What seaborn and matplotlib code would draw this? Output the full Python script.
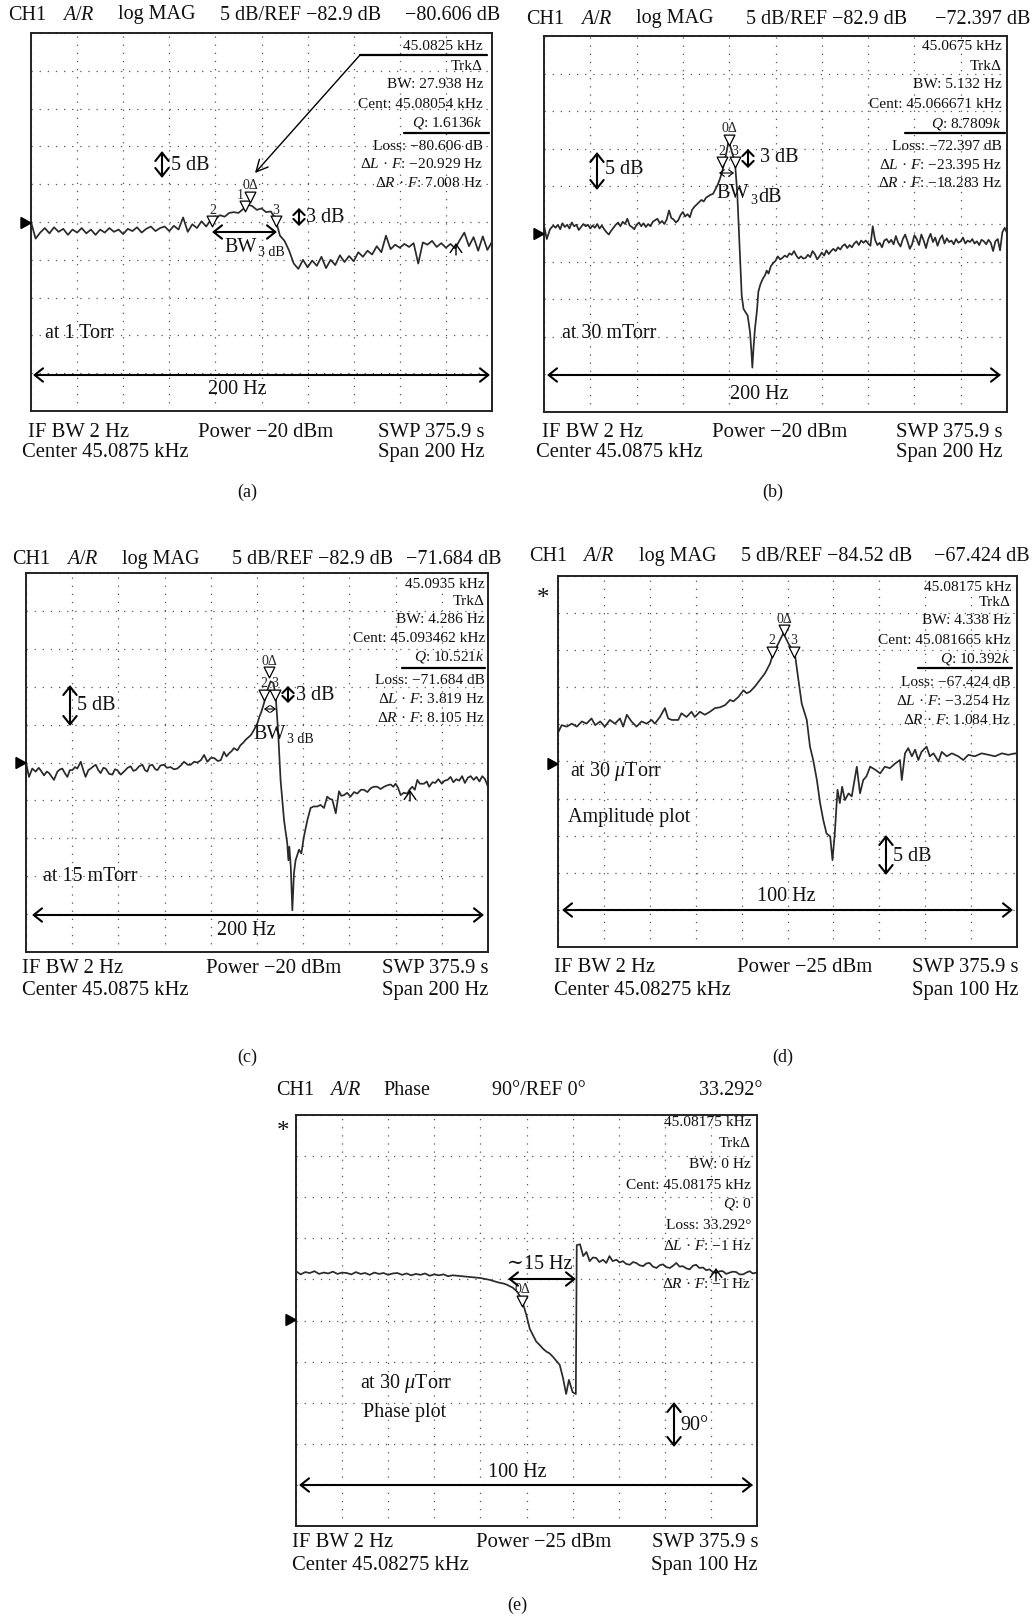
import numpy as np
import matplotlib
matplotlib.use("Agg")
import matplotlib.pyplot as plt
import matplotlib.patches as mpatches
import matplotlib.transforms as mtransforms
import seaborn as sns

# =============================
# Data read off the analyser screens
# x: offset from centre frequency (Hz), y: level relative to REF (dB, deg for e)
# =============================
a_freq = [-100, -98, -96, -94, -92, -90, -88, -86, -84, -82, -80, -78, -76, -74, -72, -70,
          -68, -66, -64, -62, -60, -58, -56, -54, -52, -50, -48, -46, -44, -42, -40, -38,
          -36, -34, -32, -30, -28, -26, -24, -22, -20, -18, -16, -14, -12, -10, -8, -6,
          -4, -2, 0, 2, 4, 6, 8, 10, 12, 14, 16, 18, 20, 22, 24, 26, 28, 30, 32, 34, 36,
          38, 40, 42, 44, 46, 48, 50, 52, 54, 56, 58, 60, 62, 64, 66, 68, 70, 72, 74, 76,
          78, 80, 82, 84, 86, 88, 90, 92, 94, 96, 98, 100]
a_level = [0.0, -2.2, -1.4, -0.8, -1.5, -0.7, -1.3, -0.9, -1.7, -1.0, -1.4, -0.8, -1.5, -1.0,
           -1.7, -1.0, -1.4, -0.8, -1.3, -1.0, -1.6, -0.9, -1.2, -0.7, -1.4, -0.9, -0.6, -1.2,
           -0.8, -0.6, -1.2, -0.5, -1.0, 0.6, -1.3, -0.3, -0.8, 0.1, -0.6, 0.3, 0.4, 0.9, 0.7,
           1.2, 1.3, 1.2, 1.7, 2.3, 2.1, 1.6, 1.8, 1.3, 1.4, 0.5, -1.8, -2.5, -3.8, -5.5, -6.2,
           -5.0, -6.0, -5.1, -5.8, -4.6, -6.1, -5.0, -5.7, -4.4, -5.3, -4.5, -5.2, -4.0, -4.6,
           -3.8, -4.3, -3.2, -4.0, -1.8, -3.6, -3.0, -3.4, -2.9, -3.3, -2.8, -5.5, -2.7, -3.0,
           -2.5, -3.3, -2.8, -3.4, -2.9, -3.5, -2.4, -1.4, -3.2, -2.0, -3.8, -1.9, -3.7, -2.6]

b_freq = [-100, -98.8, -97.4, -96, -95, -94, -93, -92, -91, -90, -89, -88, -87, -86, -85, -84,
          -83, -82, -81, -80, -79, -78, -77, -76, -75, -74, -73, -72, -71, -70, -69, -68, -67,
          -66, -65, -64, -63, -62, -61, -60, -59, -58, -57, -56, -55, -54, -53, -52, -51, -50,
          -49, -48, -47, -46, -45, -44, -43, -42, -41, -40, -39, -38, -37, -36, -35, -34, -33,
          -32, -31, -30, -29, -28, -27, -26, -25, -24, -23, -22, -21, -20.2, -19.5, -18.5,
          -17.5, -16.5, -15.5, -14.6, -13.8, -12.8, -12, -11, -10.4, -10, -9.5, -8.9, -8, -7.4,
          -6.5, -5.5, -4.5, -3.8, -3, -2, -1, 0, 1, 2, 3, 4, 5, 6, 7, 8, 9, 10, 11, 12, 13, 14,
          15, 16, 17, 18, 19, 20, 21, 22, 23, 24, 25, 26, 27, 28, 29, 30, 31, 32, 33, 34, 35, 36,
          37, 38, 39, 40, 41, 42, 43, 44, 45, 46, 47, 48, 49, 50, 51, 52, 53, 54, 55, 56, 57, 58,
          59, 60, 61, 62, 63, 64, 65, 66, 67, 68, 69, 70, 71, 72, 73, 74, 75, 76, 77, 78, 79, 80,
          81, 82, 83, 84, 85, 86, 87, 88, 89, 90, 91, 92, 93, 94, 95, 96, 97, 98, 99, 100]
b_level = [-0.2, -2.0, -0.7, -0.2, -0.5, -0.1, -0.7, 0.1, -0.4, -0.1, -0.6, 0.2, -0.3, -0.1,
           -0.8, -0.4, 0.0, -0.3, -0.1, -0.6, -0.2, -0.5, 0.0, -0.6, -0.2, -0.7, -1.1, -1.4, -0.9,
           -0.5, -0.1, 0.2, -0.3, 0.3, 0.0, 0.7, -0.2, -0.4, -0.7, -0.1, 0.2, -0.3, 0.1, -0.4, 0.0,
           -0.3, 0.3, 0.5, 0.7, 0.1, 0.4, 0.0, 0.6, 1.8, 0.8, 0.6, 0.2, 0.5, 1.2, 1.6, 1.0, 1.3,
           0.9, 1.9, 2.3, 2.6, 2.9, 3.2, 3.0, 3.5, 3.7, 3.9, 4.0, 4.6, 5.2, 6.0, 7.0, 8.3, 9.8,
           11.2, 10.3, 9.2, 8.2, 4.0, -3.0, -9.5, -11.3, -11.8, -12.2, -14.4, -17.0, -19.1, -16.5,
           -14.0, -11.5, -9.0, -8.0, -7.3, -6.8, -6.2, -6.6, -5.6, -5.2, -4.9, -4.3, -4.7, -4.5,
           -4.2, -4.4, -3.9, -4.1, -3.6, -4.2, -4.6, -4.3, -4.6, -4.5, -4.1, -4.4, -3.6, -4.0,
           -4.7, -4.3, -3.8, -4.2, -3.5, -4.0, -3.6, -3.3, -3.6, -3.1, -3.4, -2.9, -2.7, -3.2,
           -2.8, -3.1, -2.6, -2.3, -2.8, -2.2, -2.5, -2.2, -2.6, -2.9, -0.3, -2.1, -2.8, -2.5,
           -3.1, -2.2, -2.0, -2.5, -2.1, -2.7, -1.6, -2.5, -3.0, -2.0, -1.4, -2.3, -3.3, -2.7,
           -1.5, -2.0, -2.8, -1.4, -2.2, -3.2, -2.0, -1.3, -2.4, -1.8, -2.9, -2.0, -1.5, -2.6,
           -1.9, -2.4, -2.2, -2.7, -2.0, -2.5, -2.3, -1.8, -2.6, -2.2, -2.4, -2.0, -2.6, -2.3,
           -2.8, -2.1, -2.3, -2.7, -2.1, -2.5, -3.6, -2.3, -2.0, -3.5, -1.1, -0.5, -1.2]

c_freq = [-100, -98.7, -97.3, -95.8, -94.5, -93.7, -92.2, -91, -90, -87.9, -86.4, -85.2, -84.3,
          -83, -82.1, -81, -79.9, -78.8, -77.8, -76.3, -75, -74.2, -73, -72, -70.8, -69.8, -68.7,
          -67.7, -66.5, -65.5, -64, -62.6, -61.5, -60.5, -59, -57.6, -56, -54.7, -53.5, -52.5,
          -51, -49.6, -48.5, -47.5, -46.5, -45.3, -44, -43.1, -41.8, -40.3, -39, -37.4, -36,
          -34.5, -33, -31.6, -30, -28.7, -27.2, -25.8, -24.3, -22.9, -21.5, -20, -18.6, -17,
          -15.7, -14.3, -13.2, -12.1, -11, -10, -8.5, -7.1, -6, -4.9, -3.8, -2.7, -1.3, 0.2, 1.0,
          1.9, 3.0, 3.8, 4.8, 5.9, 7.1, 8.1, 9.1, 10.2, 11.7, 13.1, 13.6, 14.0, 14.6, 15.3, 16.0,
          16.7, 18.2, 19.2, 20.3, 21.8, 23.2, 24.5, 26.1, 27.5, 29.0, 30.4, 31.5, 32.6, 34.1,
          35.5, 36.5, 37.7, 39, 40.5, 42, 43.4, 45, 46.3, 47.8, 49.2, 50.5, 52.1, 53.5, 55.0,
          56.5, 57.9, 59, 60, 61, 62.2, 63.5, 65.1, 66, 67.2, 68.3, 69.4, 70.5, 72.3, 73.5, 74.5,
          76, 77.2, 78.5, 80, 81.2, 82.5, 83.8, 85, 86.3, 87.5, 88.8, 90, 91.3, 92.5, 93.8, 95,
          96.3, 97.5, 98.7, 100]
c_level = [0.0, -1.9, -0.8, -1.2, -0.7, -1.0, -1.7, -1.2, -1.4, -2.3, -1.2, -0.9, -0.8, -1.5,
           -1.9, -1.0, -1.0, -0.6, -0.8, 0.1, -1.2, -1.9, -1.0, -0.8, -0.5, -0.3, -1.0, -1.4,
           -0.7, -0.8, -1.5, -1.6, -0.9, -1.0, -1.6, -1.2, -0.7, -0.5, -1.1, -1.0, -0.5, -0.3,
           -1.0, -1.2, -0.4, -0.3, -0.9, -1.0, -0.4, -0.3, -0.7, -0.6, -0.9, -0.8, -0.4, 0.1,
           -0.3, -0.3, 0.1, 0.0, 0.3, 1.0, 0.1, 0.6, 0.6, 0.2, 0.3, 1.4, 0.8, 1.2, 1.5, 1.9, 1.6,
           2.3, 2.6, 3.0, 3.3, 3.6, 4.3, 5.2, 6.0, 6.7, 7.8, 8.7, 9.8, 10.7, 10.5, 8.7, 4.3, -2.3,
           -7.6, -10.7, -12.9, -11.1, -13.7, -19.5, -14.6, -12.9, -11.5, -12.0, -9.8, -7.6, -6.0,
           -5.8, -5.8, -5.6, -6.0, -4.5, -4.8, -4.9, -6.7, -3.8, -4.4, -4.3, -4.0, -4.5, -3.9,
           -4.1, -3.6, -3.6, -3.9, -3.4, -3.2, -3.2, -3.5, -3.2, -3.0, -2.9, -3.2, -2.8, -3.3,
           -4.3, -4.0, -4.1, -3.6, -3.2, -3.6, -2.3, -2.8, -2.8, -2.5, -3.2, -2.6, -2.7, -2.2,
           -2.8, -2.4, -2.3, -1.9, -2.6, -2.2, -2.4, -1.8, -2.7, -2.0, -1.8, -2.3, -1.9, -2.5,
           -1.8, -2.2, -3.2]

d_freq = [-49.9, -49.2, -48.1, -47.0, -45.9, -44.8, -43.8, -42.7, -41.9, -40.8, -39.8, -38.7,
          -37.6, -36.5, -35.8, -35.0, -34.0, -32.9, -31.8, -30.7, -29.6, -28.9, -27.8, -26.7,
          -26.0, -25.2, -23.8, -23.1, -22.0, -20.9, -20.2, -19.1, -18.0, -16.9, -15.8, -14.7,
          -13.6, -12.5, -11.8, -10.7, -9.6, -8.9, -8.2, -7.1, -6.0, -4.9, -3.8, -3.1, -2.0,
          -0.9, 0.2, 1.1, 1.7, 2.4, 3.1, 4.2, 4.9, 5.6, 6.4, 7.1, 7.8, 8.5, 9.3, 9.8, 10.3, 10.9,
          11.4, 11.9, 12.5, 13.3, 14.0, 15.1, 15.8, 16.5, 17.2, 18.0, 19.1, 20.2, 21.2, 22.3,
          23.4, 24.5, 24.9, 25.6, 26.3, 27.1, 27.8, 28.5, 29.2, 30.3, 31.0, 31.8, 32.9, 33.6,
          34.7, 35.8, 37.2, 38.3, 39.4, 40.8, 42.3, 43.8, 45.2, 46.7, 48.1, 49.6, 50.0]
d_level = [4.0, 4.9, 4.7, 5.1, 4.7, 5.4, 5.1, 5.8, 4.9, 5.4, 4.7, 5.6, 5.1, 5.8, 4.7, 6.3, 5.4,
           4.7, 5.4, 5.1, 5.6, 5.1, 6.0, 7.2, 5.8, 5.6, 5.6, 6.5, 6.0, 6.7, 6.0, 6.7, 6.3, 6.7,
           7.2, 7.3, 7.6, 8.3, 8.1, 8.7, 9.6, 9.2, 9.4, 10.1, 11.0, 11.9, 13.2, 14.6, 15.9, 17.3,
           15.9, 15.0, 14.1, 10.9, 7.8, 5.6, 2.0, 0.2, -2.5, -5.6, -7.9, -9.7, -10.1, -13.3, -9.7,
           -3.8, -5.6, -3.4, -5.2, -4.3, -4.7, -0.7, -4.3, -2.5, -2.0, -0.7, -1.1, -1.6, -0.7,
           -0.9, -0.3, 0.2, -2.5, 1.1, 1.8, 0.7, 1.6, 0.2, 1.3, 2.0, 0.7, 1.1, 0.0, 1.3, 0.7, 1.1,
           0.7, 0.2, 0.9, 0.7, 1.1, 0.9, 0.7, 1.1, 0.9, 1.1, 1.0]

e_freq = [-50, -49, -48, -47, -46, -45, -44, -43, -42, -41, -40, -39, -38, -37, -36, -35, -34,
          -33, -32, -31, -30, -29, -28, -27, -26, -25, -24, -23, -22, -21, -20, -19, -18, -17,
          -16, -15, -14, -13, -12, -11, -10, -9, -8, -7, -6, -5, -4.4, -3, -2, -1, 0, 0.7, 1.4,
          2.1, 2.9, 3.6, 4.3, 5.0, 5.7, 6.6, 7.2, 7.9, 8.6, 9.2, 10.0, 10.7, 10.9, 11.6, 12.3,
          13.0, 13.7, 14.4, 15.1, 15.8, 16.6, 17.3, 18.0, 18.7, 19.5, 20.2, 20.9, 21.6, 22.4,
          23.1, 23.8, 24.5, 25.3, 26.0, 26.7, 27.4, 28.2, 28.9, 29.6, 30.3, 31.1, 31.8, 32.5,
          33.2, 33.9, 34.7, 35.4, 36.1, 36.8, 37.5, 38.3, 39.0, 39.7, 40.4, 41.2, 41.9, 42.6,
          43.3, 44.1, 44.8, 45.5, 46.2, 47.0, 47.7, 48.4, 49.1, 49.9]
e_phase = [108, 101, 106, 104, 108, 102, 105, 103, 107, 102, 105, 104, 101, 106, 102, 104, 100,
           105, 102, 104, 100, 103, 104, 100, 103, 99, 102, 100, 103, 98, 101, 99, 101, 97, 99, 98,
           97, 96, 95, 94, 93, 91, 89, 86, 83, 81, 79, 72, 63, 45, 11, -18, -32, -46, -54, -62,
           -68, -72, -79, -90, -97, -125, -161, -130, -157, -161, 165, 167, 141, 150, 130, 138,
           137, 128, 133, 126, 141, 130, 133, 127, 130, 124, 122, 128, 126, 121, 119, 125, 126,
           118, 115, 121, 123, 117, 115, 120, 126, 118, 119, 114, 112, 120, 122, 115, 116, 110,
           112, 106, 104, 108, 108, 102, 105, 107, 106, 101, 101, 105, 108, 103, 105]

# marker triangles (freq offset, level relative to REF)
a_mk_freq, a_mk_level, a_mk_label = [-21.3, -7.2, -5.0, 6.3], [0.1, 2.1, 3.3, 0.1], ['2', '1', '0Δ', '3']
b_mk_freq, b_mk_level, b_mk_label = [-23.1, -20.1, -17.5], [8.2, 11.2, 8.2], ['2', '0Δ', '3']
c_mk_freq, c_mk_level, c_mk_label = [3.0, 5.2, 7.8], [8.9, 11.9, 8.9], ['2', '0Δ', '3']
d_mk_freq, d_mk_level, d_mk_label = [-3.4, -0.76, 1.4], [14.8, 17.7, 14.8], ['2', '0Δ', '3']
e_mk_freq, e_mk_level, e_mk_label = [-0.9], [43.6], ['0Δ']

ref_levels = [-82.9, -82.9, -82.9, -84.52, 0.0]
spans = [200, 200, 200, 100, 100]
per_div = [5, 5, 5, 5, 90]

titles = [
    ["CH1", r"$\mathit{A}$/$\mathit{R}$", "log MAG", "5 dB/REF −82.9 dB", "−80.606 dB"],
    ["CH1", r"$\mathit{A}$/$\mathit{R}$", "log MAG", "5 dB/REF −82.9 dB", "−72.397 dB"],
    ["CH1", r"$\mathit{A}$/$\mathit{R}$", "log MAG", "5 dB/REF −82.9 dB", "−71.684 dB"],
    ["CH1", r"$\mathit{A}$/$\mathit{R}$", "log MAG", "5 dB/REF −84.52 dB", "−67.424 dB"],
    ["CH1", r"$\mathit{A}$/$\mathit{R}$", "Phase", "90°/REF 0°", "33.292°"],
]
readouts = [
    ["45.0825 kHz", "TrkΔ", "BW: 27.938 Hz", "Cent: 45.08054 kHz", r"$\mathit{Q}$: 1.6136$\mathit{k}$",
     "Loss: −80.606 dB", r"Δ$\mathit{L}$ · $\mathit{F}$: −20.929 Hz", r"Δ$\mathit{R}$ · $\mathit{F}$: 7.008 Hz"],
    ["45.0675 kHz", "TrkΔ", "BW: 5.132 Hz", "Cent: 45.066671 kHz", r"$\mathit{Q}$: 8.7809$\mathit{k}$",
     "Loss: −72.397 dB", r"Δ$\mathit{L}$ · $\mathit{F}$: −23.395 Hz", r"Δ$\mathit{R}$ · $\mathit{F}$: −18.283 Hz"],
    ["45.0935 kHz", "TrkΔ", "BW: 4.286 Hz", "Cent: 45.093462 kHz", r"$\mathit{Q}$: 10.521$\mathit{k}$",
     "Loss: −71.684 dB", r"Δ$\mathit{L}$ · $\mathit{F}$: 3.819 Hz", r"Δ$\mathit{R}$ · $\mathit{F}$: 8.105 Hz"],
    ["45.08175 kHz", "TrkΔ", "BW: 4.338 Hz", "Cent: 45.081665 kHz", r"$\mathit{Q}$: 10.392$\mathit{k}$",
     "Loss: −67.424 dB", r"Δ$\mathit{L}$ · $\mathit{F}$: −3.254 Hz", r"Δ$\mathit{R}$ · $\mathit{F}$: 1.084 Hz"],
    ["45.08175 kHz", "TrkΔ", "BW: 0 Hz", "Cent: 45.08175 kHz", r"$\mathit{Q}$: 0",
     "Loss: 33.292°", r"Δ$\mathit{L}$ · $\mathit{F}$: −1 Hz", r"Δ$\mathit{R}$ · $\mathit{F}$: −1 Hz"],
]
footers = [
    ["IF BW 2 Hz", "Center 45.0875 kHz", "Power −20 dBm", "SWP 375.9 s", "Span 200 Hz"],
    ["IF BW 2 Hz", "Center 45.0875 kHz", "Power −20 dBm", "SWP 375.9 s", "Span 200 Hz"],
    ["IF BW 2 Hz", "Center 45.0875 kHz", "Power −20 dBm", "SWP 375.9 s", "Span 200 Hz"],
    ["IF BW 2 Hz", "Center 45.08275 kHz", "Power −25 dBm", "SWP 375.9 s", "Span 100 Hz"],
    ["IF BW 2 Hz", "Center 45.08275 kHz", "Power −25 dBm", "SWP 375.9 s", "Span 100 Hz"],
]
pressures = ["at 1 Torr", "at 30 mTorr", "at 15 mTorr", r"at 30 $\mu$Torr", r"at 30 $\mu$Torr"]
panel_tags = ["(a)", "(b)", "(c)", "(d)", "(e)"]

# =============================
# Figure setup
# =============================
sns.set_style("white")
plt.rcParams['font.family'] = ['Liberation Serif', 'DejaVu Serif']
plt.rcParams['mathtext.fontset'] = 'custom'
plt.rcParams['mathtext.rm'] = 'Liberation Serif'
plt.rcParams['mathtext.it'] = 'Liberation Serif:italic'

W, H = 1036, 1617
fig = plt.figure(figsize=(W / 100, H / 100), dpi=100)
fig.patch.set_facecolor('white')
# pixel coordinates, origin top-left
pix = mtransforms.Affine2D().scale(1 / W, -1 / H).translate(0, 1) + fig.transFigure

TRACE = '#2a2a2a'
TITLE_FS, FOOT_FS, NOTE_FS, READ_FS = 14.5, 14.9, 14.5, 11.1


def txt(x, y, s, size=NOTE_FS, ha='left', **kw):
    fig.text(x, y, s, transform=pix, fontsize=size, ha=ha, va='center', color='#111111', **kw)


def arrow(p0, p1, style='<->', lw=1.5, hl=0.5, hw=0.4, ms=12):
    fig.add_artist(mpatches.FancyArrowPatch(
        p0, p1, transform=pix, arrowstyle=f'{style},head_length={hl},head_width={hw}',
        mutation_scale=ms, lw=lw, color='black', shrinkA=0, shrinkB=0))


def short_arrow(p0, p1):
    arrow(p0, p1, hl=0.45, hw=0.45, ms=9)


def hline(x0, x1, y, lw=1.6):
    fig.add_artist(plt.Line2D([x0, x1], [y, y], transform=pix, color='black', lw=lw))


def ref_mark(x, y):
    fig.add_artist(mpatches.Polygon([(x - 10, y - 5.5), (x, y), (x - 10, y + 5.5)],
                                    closed=True, transform=pix, color='black'))


def screen(box, i, freq, level, mk_freq, mk_level, mk_label):
    x0, y0, x1, y1 = box
    ax = fig.add_axes([x0 / W, 1 - y1 / H, (x1 - x0) / W, (y1 - y0) / H])
    half = spans[i] / 2
    ref = ref_levels[i]
    ax.set_xlim(-half, half)
    ax.set_ylim(ref - 5 * per_div[i], ref + 5 * per_div[i])
    ax.set_xticks(np.linspace(-half, half, 11))
    ax.set_yticks(np.linspace(ref - 5 * per_div[i], ref + 5 * per_div[i], 11))
    ax.tick_params(length=0, labelbottom=False, labelleft=False)
    ax.grid(True, color='#555555', lw=0.9, ls=(0, (1, 5.5)))
    for sp in ax.spines.values():
        sp.set_linewidth(1.4)
        sp.set_color('#222222')
    sns.lineplot(x=np.array(freq), y=ref + np.array(level), ax=ax, color=TRACE, lw=1.25,
                 estimator=None, sort=False)
    sns.scatterplot(x=np.array(mk_freq), y=ref + np.array(mk_level), ax=ax, marker='v', s=60,
                    color='white', edgecolor='black', linewidth=0.9, zorder=5)
    for f, l, lab in zip(mk_freq, mk_level, mk_label):
        dx = -3.5 if lab == '1' else 0
        ax.annotate(lab, (f, ref + l), xytext=(dx, 8), textcoords='offset points',
                    ha='center', va='center', fontsize=10)
    ax.set_xlabel('')
    ax.set_ylabel('')
    return ax


def header(y, xs, xr, pieces):
    for x, s in zip(xs, pieces[:-1]):
        txt(x, y, s, TITLE_FS)
    txt(xr, y, pieces[-1], TITLE_FS, ha='right')


def readout(xr, ys, lines):
    for y, s in zip(ys, lines):
        txt(xr, y, s, READ_FS, ha='right')


def footer(y1, y2, xl1, xl2, xm, xr, f):
    txt(xl1, y1, f[0], FOOT_FS)
    txt(xl2, y2, f[1], FOOT_FS)
    txt(xm, y1, f[2], FOOT_FS)
    txt(xr, y1, f[3], FOOT_FS, ha='right')
    txt(xr, y2, f[4], FOOT_FS, ha='right')


# ---------------- (a) ----------------
screen((31, 33, 492, 411), 0, a_freq, a_level, a_mk_freq, a_mk_level, a_mk_label)
header(15, [8, 62, 118, 220], 500, titles[0])
readout(483, [47, 66, 85, 104, 123, 146, 164, 183], readouts[0])
hline(360, 487, 55)
arrow((360, 55), (255, 173), style='->', lw=1.0, hl=0.7, hw=0.35)
hline(404, 489, 133)
ref_mark(31, 223)
arrow((162, 151), (162, 178))
txt(171, 165, "5 dB")
short_arrow((299, 208), (299, 226))
txt(306, 218, "3 dB")
arrow((212, 232), (277, 232))
txt(224, 248, "BW")
txt(258, 252, "3 dB", 10)
arrow((456, 255), (456, 243), style='->', lw=1.0, hl=0.5, hw=0.35)
txt(45, 334, pressures[0])
arrow((33, 375), (490, 375))
txt(237, 389, "200 Hz", ha='center')
footer(432, 452, 28, 22, 198, 485, footers[0])
txt(247, 492, panel_tags[0], 13, ha='center')

# ---------------- (b) ----------------
screen((544, 36, 1007, 412), 1, b_freq, b_level, b_mk_freq, b_mk_level, b_mk_label)
header(19, [526, 580, 636, 746], 1030, titles[1])
readout(1002, [47, 66, 85, 104, 124, 146, 165, 183], readouts[1])
hline(905, 1005, 133)
ref_mark(544, 234)
arrow((597, 152), (597, 190))
txt(605, 170, "5 dB")
short_arrow((748, 149), (748, 168))
txt(760, 157, "3 dB")
arrow((719, 173), (734, 173), lw=0.8, hl=0.4, hw=0.3, ms=8)
txt(716, 193, "BW")
txt(750, 201, "3", 10)
txt(758, 198, "dB")
txt(562, 333, pressures[1])
arrow((547, 375), (1001, 375))
txt(759, 394, "200 Hz", ha='center')
footer(432, 452, 542, 536, 712, 1002, footers[1])
txt(773, 492, panel_tags[1], 13, ha='center')

# ---------------- (c) ----------------
screen((26, 573, 488, 952), 2, c_freq, c_level, c_mk_freq, c_mk_level, c_mk_label)
header(559, [12, 66, 122, 232], 502, titles[2])
readout(485, [584, 601, 619, 638, 657, 680, 699, 718], readouts[2])
hline(402, 485, 668)
ref_mark(26, 763)
arrow((70, 685), (70, 726))
txt(77, 705, "5 dB")
short_arrow((288, 686), (288, 703))
txt(296, 695, "3 dB")
arrow((264, 709), (276, 709), lw=0.8, hl=0.4, hw=0.3, ms=8)
txt(253, 734, "BW")
txt(287, 739, "3 dB", 10)
arrow((410, 801), (410, 790), style='->', lw=1.0, hl=0.5, hw=0.35)
txt(43, 876, pressures[2])
arrow((32, 915), (484, 915))
txt(246, 930, "200 Hz", ha='center')
footer(968, 990, 22, 22, 206, 488, footers[2])
txt(247, 1057, panel_tags[2], 13, ha='center')

# ---------------- (d) ----------------
screen((558, 576, 1017, 947), 3, d_freq, d_level, d_mk_freq, d_mk_level, d_mk_label)
header(556, [529, 582, 639, 741], 1030, titles[3])
txt(543, 599, "*", 18, ha='center')
readout(1011, [587, 602, 620, 640, 659, 682, 701, 720], readouts[3])
hline(918, 1012, 668)
ref_mark(558, 764)
txt(570, 771, pressures[3])
txt(568, 817, "Amplitude plot")
arrow((886, 835), (886, 875))
txt(893, 856, "5 dB")
arrow((562, 910), (1013, 910))
txt(786, 896, "100 Hz", ha='center')
footer(967, 990, 554, 554, 737, 1019, footers[3])
txt(783, 1057, panel_tags[3], 13, ha='center')

# ---------------- (e) ----------------
screen((296, 1115, 757, 1526), 4, e_freq, e_phase, e_mk_freq, e_mk_level, e_mk_label)
header(1090, [276, 329, 383, 492], 763, titles[4])
txt(283, 1132, "*", 18, ha='center')
readout(751, [1122, 1143, 1164, 1185, 1204, 1225, 1246, 1284], readouts[4])
ref_mark(296, 1320)
txt(540, 1264, "∼15 Hz", ha='center')
arrow((508, 1279), (576, 1279))
arrow((716, 1281), (716, 1268), style='->', lw=1.0, hl=0.5, hw=0.35)
txt(360, 1383, pressures[4])
txt(363, 1412, "Phase plot")
arrow((674, 1402), (674, 1447))
txt(680, 1425, "90°")
arrow((299, 1485), (753, 1485))
txt(517, 1472, "100 Hz", ha='center')
footer(1542, 1565, 292, 292, 476, 758, footers[4])
txt(517, 1605, panel_tags[4], 13, ha='center')

fig.savefig("out.png", dpi=100, facecolor='white')
